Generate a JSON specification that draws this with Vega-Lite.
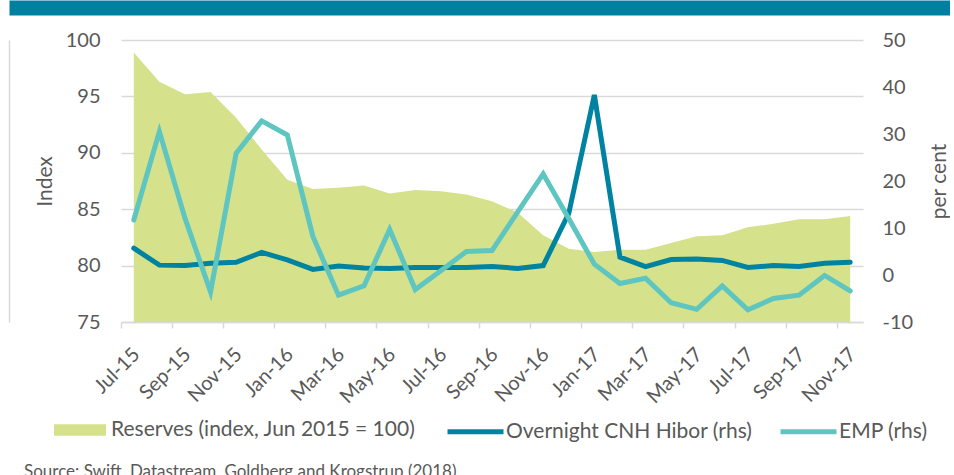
{
  "$schema": "https://vega.github.io/schema/vega-lite/v6.json",
  "padding": {"left": 9, "top": 0, "right": 0, "bottom": 0},
  "spacing": 15,
  "columns": 1,
  "background": "white",
  "concat": [
    {
      "width": 10,
      "height": 15,
      "view": {"stroke": null},
      "data": {"values": [{}]},
      "mark": {"type": "rule", "opacity": 0},
      "encoding": {
        "y": {
          "datum": 0,
          "type": "quantitative",
          "scale": {"domain": [0, 1]},
          "axis": {
            "orient": "left",
            "offset": -360.5,
            "title": null,
            "labels": false,
            "ticks": false,
            "grid": false,
            "domain": true,
            "domainColor": "#0080a0",
            "domainWidth": 945,
            "domainCap": "butt"
          }
        }
      }
    },
    {
      "width": 742,
      "height": 282,
      "data": {"values": [
        {"month": "Jul-15", "reserves": 98.9, "hibor": 5.7, "emp": 11.7},
        {"month": "Aug-15", "reserves": 96.3, "hibor": 2.1, "emp": 30.5},
        {"month": "Sep-15", "reserves": 95.2, "hibor": 2.0, "emp": 12.1},
        {"month": "Oct-15", "reserves": 95.4, "hibor": 2.5, "emp": -3.6},
        {"month": "Nov-15", "reserves": 93.1, "hibor": 2.7, "emp": 25.9},
        {"month": "Dec-15", "reserves": 90.3, "hibor": 4.8, "emp": 32.8},
        {"month": "Jan-16", "reserves": 87.6, "hibor": 3.2, "emp": 29.8},
        {"month": "Feb-16", "reserves": 86.8, "hibor": 1.2, "emp": 8.2},
        {"month": "Mar-16", "reserves": 86.9, "hibor": 1.9, "emp": -4.3},
        {"month": "Apr-16", "reserves": 87.1, "hibor": 1.5, "emp": -2.3},
        {"month": "May-16", "reserves": 86.4, "hibor": 1.4, "emp": 9.7},
        {"month": "Jun-16", "reserves": 86.7, "hibor": 1.6, "emp": -3.1},
        {"month": "Jul-16", "reserves": 86.6, "hibor": 1.6, "emp": 0.9},
        {"month": "Aug-16", "reserves": 86.3, "hibor": 1.6, "emp": 5.0},
        {"month": "Sep-16", "reserves": 85.7, "hibor": 1.8, "emp": 5.2},
        {"month": "Oct-16", "reserves": 84.7, "hibor": 1.4, "emp": 13.4},
        {"month": "Nov-16", "reserves": 82.7, "hibor": 2.0, "emp": 21.5},
        {"month": "Dec-16", "reserves": 81.5, "hibor": 13.1, "emp": 12.0},
        {"month": "Jan-17", "reserves": 81.2, "hibor": 38.3, "emp": 2.3},
        {"month": "Feb-17", "reserves": 81.4, "hibor": 3.8, "emp": -1.8},
        {"month": "Mar-17", "reserves": 81.4, "hibor": 1.8, "emp": -0.7},
        {"month": "Apr-17", "reserves": 82.0, "hibor": 3.3, "emp": -5.9},
        {"month": "May-17", "reserves": 82.6, "hibor": 3.4, "emp": -7.3},
        {"month": "Jun-17", "reserves": 82.7, "hibor": 3.1, "emp": -2.3},
        {"month": "Jul-17", "reserves": 83.4, "hibor": 1.6, "emp": -7.4},
        {"month": "Aug-17", "reserves": 83.7, "hibor": 2.0, "emp": -5.0},
        {"month": "Sep-17", "reserves": 84.1, "hibor": 1.8, "emp": -4.3},
        {"month": "Oct-17", "reserves": 84.1, "hibor": 2.5, "emp": -0.1},
        {"month": "Nov-17", "reserves": 84.4, "hibor": 2.7, "emp": -3.4}
      ]},
      "title": {
        "text": "Source: Swift, Datastream, Goldberg and Krogstrup (2018)",
        "orient": "bottom",
        "anchor": "start",
        "frame": "bounds",
        "fontSize": 17,
        "fontWeight": "normal",
        "color": "#595959",
        "dx": 15,
        "offset": 57
      },
      "encoding": {
        "x": {
          "field": "month",
          "type": "ordinal",
          "sort": null,
          "scale": {"paddingInner": 0, "paddingOuter": 0},
          "axis": {
            "title": null,
            "values": ["Jul-15", "Sep-15", "Nov-15", "Jan-16", "Mar-16", "May-16", "Jul-16", "Sep-16", "Nov-16", "Jan-17", "Mar-17", "May-17", "Jul-17", "Sep-17", "Nov-17"],
            "bandPosition": 0,
            "labelOffset": -4.2,
            "labelAngle": -45,
            "labelFontSize": 20,
            "labelPadding": 16,
            "tickSize": 6,
            "tickColor": "#d9d9d9",
            "tickWidth": 1.5,
            "domainColor": "#d9d9d9",
            "domainWidth": 1.5,
            "grid": false
          }
        }
      },
      "layer": [
        {
          "mark": {"type": "area", "opacity": 1},
          "encoding": {
            "y": {
              "field": "reserves",
              "type": "quantitative",
              "scale": {"domain": [75, 100], "zero": false},
              "axis": {
                "orient": "left",
                "title": "Index",
                "values": [75, 80, 85, 90, 95, 100],
                "grid": true,
                "gridColor": "#d9d9d9",
                "gridWidth": 1.5,
                "domain": false,
                "ticks": false,
                "labelFontSize": 20,
                "labelPadding": 21,
                "titleFontSize": 21,
                "titlePadding": 10
              }
            },
            "y2": {"datum": 75},
            "fill": {
              "datum": "Reserves (index, Jun 2015 = 100)",
              "type": "nominal",
              "scale": {
                "domain": ["Reserves (index, Jun 2015 = 100)"],
                "range": ["#d5e28b"]
              },
              "legend": {
                "title": null,
                "orient": "none",
                "legendX": -67,
                "legendY": 404,
                "direction": "horizontal",
                "labelFontSize": 21,
                "labelColor": "#595959",
                "labelOffset": 5,
                "labelLimit": 500,
                "symbolSize": 2704,
                "symbolType": "M-1,-0.22H1V0.22H-1Z",
                "symbolStrokeWidth": 0,
                "symbolOpacity": 1
              }
            }
          }
        },
        {
          "layer": [
            {
              "mark": {"type": "line", "strokeWidth": 5, "strokeCap": "round"},
              "encoding": {
                "y": {
                  "field": "hibor",
                  "type": "quantitative",
                  "scale": {"domain": [-10, 50]},
                  "axis": {
                    "orient": "right",
                    "title": "per cent",
                    "values": [-10, 0, 10, 20, 30, 40, 50],
                    "labelExpr": "'' + datum.value",
                    "grid": false,
                    "domain": false,
                    "ticks": false,
                    "labelFontSize": 20,
                    "labelPadding": 19,
                    "titleFontSize": 21,
                    "titleAngle": -90,
                    "titlePadding": 37
                  }
                },
                "stroke": {
                  "datum": "Overnight CNH Hibor (rhs)",
                  "type": "nominal",
                  "scale": {
                    "domain": ["Overnight CNH Hibor (rhs)", "EMP (rhs)"],
                    "range": ["#0083a0", "#5ec5c0"]
                  },
                  "legend": {
                    "title": null,
                    "orient": "none",
                    "legendX": 324,
                    "legendY": 401,
                    "direction": "horizontal",
                    "columnPadding": 17,
                    "labelFontSize": 21,
                    "labelColor": "#595959",
                    "labelOffset": 0,
                    "labelLimit": 500,
                    "symbolSize": 3136,
                    "symbolType": "stroke",
                    "symbolStrokeWidth": 5,
                    "symbolOpacity": 1
                  }
                }
              }
            },
            {
              "mark": {"type": "line", "strokeWidth": 5, "strokeCap": "round"},
              "encoding": {
                "y": {"field": "emp", "type": "quantitative"},
                "stroke": {"datum": "EMP (rhs)", "type": "nominal"}
              }
            }
          ]
        },
        {
          "mark": {"type": "rule", "opacity": 0},
          "encoding": {
            "y": {
              "datum": 0,
              "type": "quantitative",
              "scale": {"domain": [0, 1]},
              "axis": {
                "orient": "left",
                "offset": 112,
                "title": null,
                "labels": false,
                "ticks": false,
                "grid": false,
                "domain": true,
                "domainColor": "#d9d9d9",
                "domainWidth": 1.5
              }
            }
          }
        }
      ],
      "resolve": {"scale": {"y": "independent"}}
    }
  ],
  "config": {
    "font": "Lato",
    "view": {"stroke": null},
    "axis": {"labelColor": "#595959", "titleColor": "#595959", "titleFontWeight": "normal", "labelFont": "Lato", "titleFont": "Lato"},
    "legend": {"labelFont": "Lato"},
    "title": {"font": "Lato"}
  }
}
